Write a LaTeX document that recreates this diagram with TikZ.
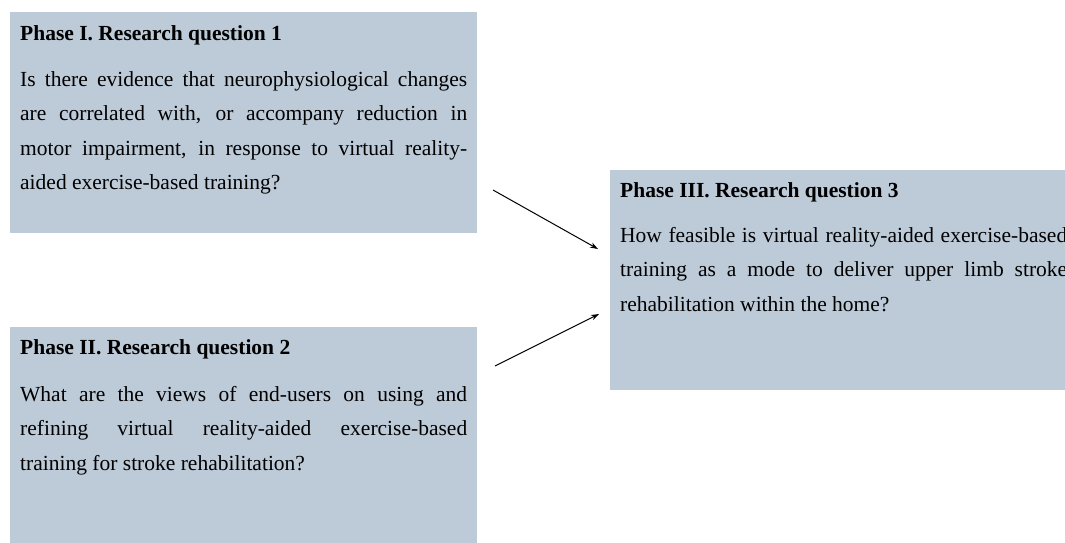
\documentclass[tikz,border=0pt]{standalone}
\usepackage{fontspec}
\setmainfont{Liberation Serif}
\usetikzlibrary{arrows.meta}
\definecolor{panel}{RGB}{189,202,216}
\tikzset{
  qbox/.style={fill=panel, draw=none, inner sep=0pt, anchor=north west},
  qtitle/.style={anchor=base west, inner sep=0pt, font=\fontsize{21.5pt}{25pt}\selectfont\bfseries},
  qbody/.style={anchor=base west, inner sep=0pt},
  link/.style={line width=1pt, -{Stealth[length=8pt,width=5.5pt]}}
}
% justified body text with fixed breaks, baseline at the first line
\newcommand\qpara[1]{\parbox[t]{447pt}{\fontsize{21.5pt}{34.5pt}\selectfont
  \parindent=0pt\hyphenpenalty=10000\rightskip=0pt #1}}
\begin{document}
\begin{tikzpicture}[x=1pt,y=-1pt]
\useasboundingbox (0,0) rectangle (1065,542);
\clip (0,0) rectangle (1065,542);

% Phase I
\node[qbox, minimum width=467pt, minimum height=221pt] (q1) at (10,12) {};
\node[qtitle] (q1t) at ([shift={(10pt,-28pt)}]q1.north west) {Phase I. Research question 1};
\node[qbody] (q1b) at ([yshift=-46pt]q1t.base west) {\qpara{Is there evidence that neurophysiological changes\linebreak
are correlated with, or accompany reduction in\linebreak
motor impairment, in response to virtual reality-\linebreak
aided exercise-based training?}};

% Phase II
\node[qbox, minimum width=467pt, minimum height=220pt] (q2) at (10,327) {};
\node[qtitle] (q2t) at ([shift={(10pt,-27pt)}]q2.north west) {Phase II. Research question 2};
\node[qbody] (q2b) at ([yshift=-47pt]q2t.base west) {\qpara{What are the views of end-users on using and\linebreak
refining virtual reality-aided exercise-based\linebreak
training for stroke rehabilitation?}};

% Phase III
\node[qbox, minimum width=467pt, minimum height=220pt] (q3) at (610,170) {};
\node[qtitle] (q3t) at ([shift={(10pt,-27pt)}]q3.north west) {Phase III. Research question 3};
\node[qbody] (q3b) at ([yshift=-45pt]q3t.base west) {\qpara{How feasible is virtual reality-aided exercise-based\linebreak
training as a mode to deliver upper limb stroke\linebreak
rehabilitation within the home?}};

% connectors
\coordinate (a1s) at (493,190);
\coordinate (a1e) at (598,249);
\coordinate (a2s) at (495,366);
\coordinate (a2e) at (599,314);
\draw[link] (a1s) -- (a1e);
\draw[link] (a2s) -- (a2e);
\end{tikzpicture}
\end{document}
